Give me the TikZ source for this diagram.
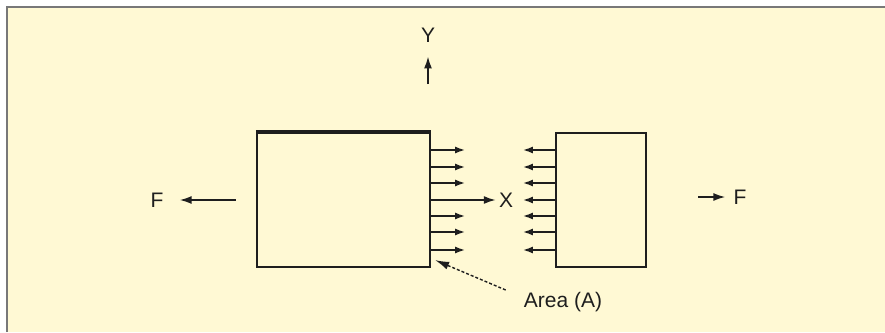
\documentclass[tikz,border=0pt]{standalone}
\usepackage{fontspec}
\setmainfont{Liberation Sans}
\usetikzlibrary{arrows.meta,calc}
\definecolor{paper}{RGB}{255,249,212}
\definecolor{frame}{RGB}{120,120,120}
\definecolor{ink}{RGB}{30,30,30}
\tikzset{
  body/.style={draw=ink,line width=2.2pt,fill=paper,inner sep=0pt},
  lbl/.style={inner sep=0pt,text=ink,font=\fontsize{21}{24}\selectfont},
  force/.style={draw=ink,line width=1.8pt,-{Latex[length=12pt,width=8pt]}},
  stress/.style={draw=ink,line width=1.6pt,-{Latex[length=10pt,width=7pt]}},
  leader/.style={draw=ink,line width=1.4pt,densely dashed,-{Latex[length=14pt,width=8pt]}}
}
\begin{document}
\begin{tikzpicture}[x=1pt,y=-1pt]
\useasboundingbox (0,0) rectangle (885,332);
\fill[white] (0,0) rectangle (885,332);
\fill[paper] (7,7) rectangle (885,332);
\draw[frame,line width=1.5pt] (7,332) -- (7,7) -- (885,7);
% bodies
\node[body,minimum width=173pt,minimum height=134pt] (L) at (343.5,200) {};
\node[body,minimum width=90pt,minimum height=134pt] (R) at (601,200) {};
\draw[ink,line width=3.5pt] (L.north west) -- (L.north east);
% labels
\node[lbl] (Y) at (428,35) {Y};
\node[lbl] (X) at (506,200) {X};
\node[lbl] (Fl) at (157,200) {F};
\node[lbl] (Fr) at (740,197) {F};
\node[lbl] (A) at (563,302) {Area (A)};
% axes
\coordinate (y0) at (428,84);
\draw[force] (y0) -- ($(Y.south)+(0,14)$);
\draw[force] (L.east) -- ($(X.west)+(-3,0)$);
% external forces
\draw[force] ($(L.west)+(-20,0)$) -- ($(Fl.east)+(16,0)$);
\coordinate (fr0) at (698,197);
\draw[force] (fr0) -- ($(Fr.west)+(-8,0)$);
% stresses on cut faces
\foreach \dy in {-50,-33,-17,16,32,50}{
  \draw[stress] ($(L.east)+(0,\dy)$) -- ($(L.east)+(34,\dy)$);
}
\foreach \dy in {-50,-33,-17,0,16,32,50}{
  \draw[stress] ($(R.west)+(0,\dy)$) -- ($(R.west)+(-32,\dy)$);
}
% leader
\draw[leader] ($(A.north west)+(-18,-2)$) -- ($(L.south east)+(4,-8)$);
\end{tikzpicture}
\end{document}
